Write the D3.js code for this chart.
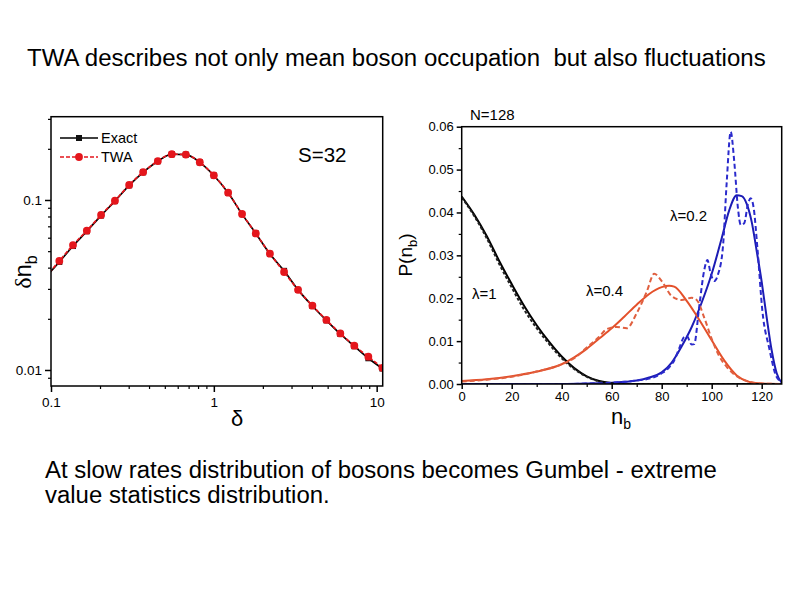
<!DOCTYPE html>
<html><head><meta charset="utf-8">
<script src="https://cdn.jsdelivr.net/npm/d3@7"></script>
<style>body{margin:0;background:#fff} text{font-family:"Liberation Sans",Arial,sans-serif}</style>
</head><body><svg id="c" width="794" height="595"></svg>
<script>
// ---- Left panel data: fluctuation δn_b vs δ (S=32) ----
const deltaVals = [0.0922,0.1125,0.1365,0.166,0.203,0.247,0.302,0.368,0.453,0.552,0.673,0.82,1.0,1.224,1.49,1.81,2.21,2.70,3.29,4.03,4.91,5.98,7.29,8.89,10.84];
const exactVals = [0.0350,0.0432,0.0536,0.0655,0.0810,0.0985,0.1220,0.1455,0.1690,0.1858,0.1848,0.1665,0.1394,0.1102,0.0826,0.0636,0.0482,0.0383,0.0296,0.0238,0.0196,0.0163,0.0138,0.01172,0.0102];
const twaVals   = [0.0351,0.0438,0.0543,0.0660,0.0816,0.0990,0.1225,0.1460,0.1695,0.1860,0.1850,0.1667,0.1396,0.1104,0.0827,0.0636,0.0483,0.0377,0.0296,0.0239,0.0197,0.0164,0.0139,0.01197,0.0103];
const leftYTicks = [0.01, 0.1];
const leftXTicks = [0.1, 1, 10];

// ---- Right panel data: P(n_b) vs n_b (N=128) ----
const blackN      = [0,5,10,15,20,25,30,35,40,45,50,55,60,65,70,80,100,128];
const blackSolid  = [0.0437,0.0395,0.0345,0.0287,0.0233,0.0182,0.0137,0.0098,0.0064,0.0037,0.0018,0.0007,0.0002,0.0,0,0,0,0];
const blackDashed = [0.0435,0.0392,0.0340,0.0280,0.0225,0.0173,0.0130,0.0093,0.0060,0.0035,0.0017,0.0006,0.0001,0.0,0,0,0,0];

const orangeN      = [0,10,20,30,40,45,50,55,60,65,70,75,80,83,85,90,95,100,105,110,115,120,128];
const orangeSolid  = [0.0007,0.0011,0.0018,0.0029,0.0046,0.0062,0.0082,0.0106,0.0130,0.0157,0.0185,0.0210,0.0226,0.0229,0.0227,0.0194,0.0150,0.0102,0.0055,0.0020,0.0005,0.0001,0];
const orangeDashN  = [0,10,20,30,40,45,50,55,58,62,66,70,74,77,80,84,88,92,94,97,100,103,106,110,115,120,128];
const orangeDashed = [0.0006,0.0010,0.0017,0.0029,0.0046,0.0060,0.0085,0.0110,0.0128,0.0133,0.0130,0.0165,0.0215,0.0257,0.0240,0.0205,0.0196,0.0201,0.0196,0.0155,0.0105,0.0065,0.0040,0.0018,0.0005,0.0001,0];

const blueN      = [0,40,50,60,65,70,75,80,84,88,92,96,100,104,107,110,112,114,116,118,120,122,124,126,128];
const blueSolid  = [0,0,0.0001,0.0003,0.0005,0.0008,0.0015,0.0027,0.0050,0.0088,0.0133,0.0190,0.0257,0.0340,0.0405,0.0440,0.0438,0.0420,0.0378,0.0310,0.0238,0.0155,0.0078,0.0025,0.0003];
const blueDashN  = [0,40,50,60,70,76,80,83,85,87,89,90,92,93,95,97,98.3,99.5,101,102.5,104.5,106,107.6,109,110.5,111.6,113,114.5,115.6,116.8,118.3,120.3,123,125.6,127.6,128];
const blueDashed = [0,0,0.0001,0.0003,0.0008,0.0014,0.0025,0.0039,0.0055,0.0083,0.0110,0.0112,0.0092,0.0093,0.0180,0.0265,0.0289,0.0260,0.0240,0.0255,0.0320,0.0470,0.0588,0.0520,0.0410,0.0371,0.0375,0.0420,0.0433,0.0410,0.0316,0.0169,0.0084,0.0021,0.0005,0.0002];

const rightYTicks = [0,0.01,0.02,0.03,0.04,0.05,0.06];
const rightYMinor = [0.005,0.015,0.025,0.035,0.045,0.055];
const rightXTicks = [0,20,40,60,80,100,120];
const rightXMinor = [10,30,50,70,90,110];

const svg = d3.select("#c");
svg.append("rect").attr("width",794).attr("height",595).attr("fill","#fff");

function fitText(sel, width){
  const w = sel.node().getComputedTextLength();
  const fs = parseFloat(sel.attr("font-size"));
  sel.attr("font-size", fs*width/w);
  return fs*width/w;
}

// Title
const title = svg.append("text").attr("x",27).attr("y",66).attr("font-size",20).attr("fill","#000")
  .style("white-space","pre")
  .text("TWA describes not only mean boson occupation  but also fluctuations");
fitText(title, 739);

// ---------- LEFT PANEL ----------
const L = {x0:51, x1:382.7, y0:116.7, y1:386};
const lx = d3.scaleLog().domain([0.1, 10.89]).range([L.x0, L.x1]);
const ly = d3.scaleLog().domain([0.00805, 0.309]).range([L.y1, L.y0]);
const gl = svg.append("g");
gl.append("clipPath").attr("id","clipL").append("rect")
  .attr("x",L.x0).attr("y",L.y0).attr("width",L.x1-L.x0).attr("height",L.y1-L.y0);

function minorLog(domain){
  const out=[]; for(let e=-3;e<=2;e++){for(let k=2;k<=9;k++){const v=k*Math.pow(10,e); if(v>=domain[0]&&v<=domain[1]) out.push(v);}} return out;
}
gl.append("g").attr("transform",`translate(${L.x0},0)`)
  .call(d3.axisLeft(ly).tickValues(minorLog(ly.domain())).tickSize(3).tickFormat("").tickSizeOuter(0))
  .call(g=>g.select(".domain").remove()).selectAll("line").attr("stroke-width",1.2);
gl.append("g").attr("transform",`translate(0,${L.y1})`)
  .call(d3.axisBottom(lx).tickValues(minorLog(lx.domain())).tickSize(3).tickFormat("").tickSizeOuter(0))
  .call(g=>g.select(".domain").remove()).selectAll("line").attr("stroke-width",1.2);
const lya = gl.append("g").attr("transform",`translate(${L.x0},0)`)
  .call(d3.axisLeft(ly).tickValues(leftYTicks).tickSize(6).tickPadding(3).tickFormat(d=>d===0.1?"0.1":"0.01").tickSizeOuter(0));
lya.select(".domain").remove();
lya.selectAll("line").attr("stroke-width",1.5);
lya.selectAll("text").attr("font-size",13.5).attr("font-family","Liberation Sans, Arial, sans-serif").attr("fill","#000");
const lxa = gl.append("g").attr("transform",`translate(0,${L.y1})`)
  .call(d3.axisBottom(lx).tickValues(leftXTicks).tickSize(6).tickPadding(5).tickFormat(d=>String(d)).tickSizeOuter(0));
lxa.select(".domain").remove();
lxa.selectAll("line").attr("stroke-width",1.5);
lxa.selectAll("text").attr("font-size",13.5).attr("font-family","Liberation Sans, Arial, sans-serif").attr("fill","#000");

const lineL = d3.line().x(d=>lx(d[0])).y(d=>ly(d[1])).curve(d3.curveMonotoneX);
const exactPts = deltaVals.map((d,i)=>[d, exactVals[i]]);
const twaPts = deltaVals.map((d,i)=>[d, twaVals[i]]);
const cl = gl.append("g").attr("clip-path","url(#clipL)");
cl.append("path").attr("d",lineL(exactPts)).attr("fill","none").attr("stroke","#000").attr("stroke-width",1.7);
cl.selectAll("rect.sq").data(exactPts).join("rect").attr("class","sq")
  .attr("x",d=>lx(d[0])-3).attr("y",d=>ly(d[1])-3).attr("width",6).attr("height",6).attr("fill","#111");
cl.append("path").attr("d",lineL(twaPts)).attr("fill","none").attr("stroke","#e4161c").attr("stroke-width",1.7).attr("stroke-dasharray","4,2");
cl.selectAll("circle.tw").data(twaPts).join("circle").attr("class","tw")
  .attr("cx",d=>lx(d[0])).attr("cy",d=>ly(d[1])).attr("r",3.9).attr("fill","#e4161c");
gl.append("rect").attr("x",L.x0).attr("y",L.y0).attr("width",L.x1-L.x0).attr("height",L.y1-L.y0)
  .attr("fill","none").attr("stroke","#000").attr("stroke-width",1.5);

// legend
gl.append("line").attr("x1",60).attr("x2",98).attr("y1",138).attr("y2",138).attr("stroke","#000").attr("stroke-width",1.7);
gl.append("rect").attr("x",79-3).attr("y",138-3).attr("width",6).attr("height",6).attr("fill","#111");
gl.append("text").attr("x",101).attr("y",143).attr("font-size",14.5).text("Exact");
gl.append("line").attr("x1",60).attr("x2",98).attr("y1",157).attr("y2",157).attr("stroke","#e4161c").attr("stroke-width",1.7).attr("stroke-dasharray","4,2");
gl.append("circle").attr("cx",79).attr("cy",157).attr("r",3.9).attr("fill","#e4161c");
gl.append("text").attr("x",101).attr("y",162).attr("font-size",14.5).text("TWA");
gl.append("text").attr("x",298).attr("y",162).attr("font-size",20.5).text("S=32");

// axis titles
gl.append("text").attr("x",237).attr("y",426).attr("text-anchor","middle").attr("font-size",22)
  .attr("font-family","Liberation Serif, serif").text("δ");
const ylab = gl.append("text").attr("transform","translate(31,272) rotate(-90)").attr("text-anchor","middle").attr("font-size",24);
ylab.append("tspan").attr("font-family","Liberation Serif, serif").text("δ");
ylab.append("tspan").text("n");
ylab.append("tspan").attr("font-size",16).attr("dy",6).text("b");

// ---------- RIGHT PANEL ----------
const R = {x0:461.7, x1:781.7, y0:126.7, y1:384};
const rx = d3.scaleLinear().domain([0,128]).range([R.x0,R.x1]);
const ry = d3.scaleLinear().domain([0,0.06]).range([R.y1,R.y0]);
const gr = svg.append("g");
gr.append("clipPath").attr("id","clipR").append("rect")
  .attr("x",R.x0).attr("y",R.y0-10).attr("width",R.x1-R.x0).attr("height",R.y1-R.y0+10);

gr.append("g").attr("transform",`translate(${R.x0},0)`)
  .call(d3.axisLeft(ry).tickValues(rightYMinor).tickSize(3).tickFormat("").tickSizeOuter(0))
  .call(g=>g.select(".domain").remove()).selectAll("line").attr("stroke-width",1.2);
gr.append("g").attr("transform",`translate(0,${R.y1})`)
  .call(d3.axisBottom(rx).tickValues(rightXMinor).tickSize(3).tickFormat("").tickSizeOuter(0))
  .call(g=>g.select(".domain").remove()).selectAll("line").attr("stroke-width",1.2);
const rya = gr.append("g").attr("transform",`translate(${R.x0},0)`)
  .call(d3.axisLeft(ry).tickValues(rightYTicks).tickSize(5).tickPadding(3).tickFormat(d3.format(".2f")).tickSizeOuter(0));
rya.select(".domain").remove();
rya.selectAll("line").attr("stroke-width",1.5);
rya.selectAll("text").attr("font-size",13).attr("font-family","Liberation Sans, Arial, sans-serif").attr("fill","#000");
const rxa = gr.append("g").attr("transform",`translate(0,${R.y1})`)
  .call(d3.axisBottom(rx).tickValues(rightXTicks).tickSize(5).tickPadding(3).tickFormat(d3.format("d")).tickSizeOuter(0));
rxa.select(".domain").remove();
rxa.selectAll("line").attr("stroke-width",1.5);
rxa.selectAll("text").attr("font-size",13).attr("font-family","Liberation Sans, Arial, sans-serif").attr("fill","#000");

const lineR = d3.line().x(d=>rx(d[0])).y(d=>ry(d[1])).curve(d3.curveMonotoneX);
const zip = (a,b)=>a.map((v,i)=>[v,b[i]]);
const cr = gr.append("g").attr("clip-path","url(#clipR)");
const series = [
  {x:blueN, y:blueSolid, c:"#1c1cb4", dash:null},
  {x:orangeN, y:orangeSolid, c:"#e4502a", dash:null},
  {x:blackN, y:blackSolid, c:"#000", dash:null},
  {x:blackN, y:blackDashed, c:"#222", dash:"3,2"},
  {x:orangeDashN, y:orangeDashed, c:"#e06040", dash:"5,3"},
  {x:blueDashN, y:blueDashed, c:"#2a2acc", dash:"5,3"}
];
series.forEach(s=>{
  const p = cr.append("path").attr("d",lineR(zip(s.x,s.y))).attr("fill","none").attr("stroke",s.c).attr("stroke-width",2);
  if(s.dash) p.attr("stroke-dasharray",s.dash);
});
gr.append("rect").attr("x",R.x0).attr("y",R.y0).attr("width",R.x1-R.x0).attr("height",R.y1-R.y0)
  .attr("fill","none").attr("stroke","#000").attr("stroke-width",1.5);

gr.append("text").attr("x",470).attr("y",120).attr("font-size",15).text("N=128");
gr.append("text").attr("x",472).attr("y",299).attr("font-size",15).text("λ=1");
gr.append("text").attr("x",586).attr("y",296).attr("font-size",15).text("λ=0.4");
gr.append("text").attr("x",670).attr("y",221).attr("font-size",15).text("λ=0.2");

const nlab = gr.append("text").attr("x",611).attr("y",424).attr("font-size",22);
nlab.append("tspan").text("n");
nlab.append("tspan").attr("font-size",14).attr("dy",5).text("b");
const plab = gr.append("text").attr("transform","translate(412,255) rotate(-90)").attr("text-anchor","middle").attr("font-size",19);
plab.append("tspan").text("P(n");
plab.append("tspan").attr("font-size",13).attr("dy",5).text("b");
plab.append("tspan").attr("dy",-5).text(")");

// Bottom text
const b1 = svg.append("text").attr("x",45).attr("y",477.5).attr("font-size",21)
  .text("At slow rates distribution of bosons becomes Gumbel - extreme");
const fs = fitText(b1, 672);
svg.append("text").attr("x",45).attr("y",502.5).attr("font-size",fs).text("value statistics distribution.");
</script></body></html>
